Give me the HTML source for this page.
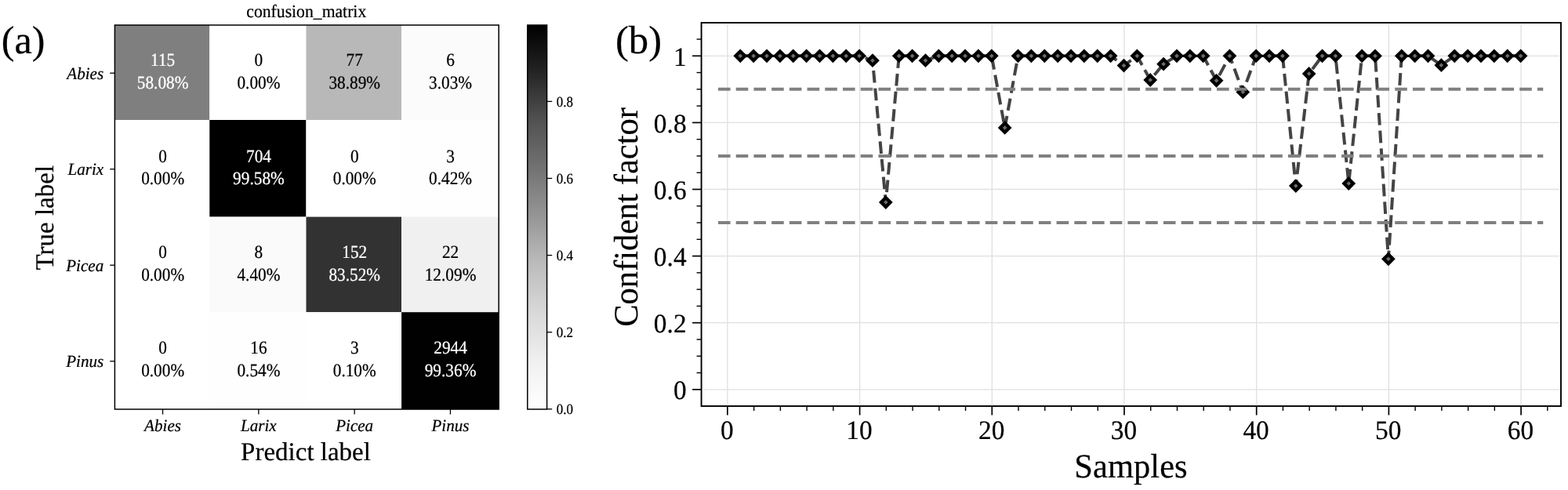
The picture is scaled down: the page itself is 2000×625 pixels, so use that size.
<!DOCTYPE html>
<html lang="en">
<head>
<meta charset="utf-8">
<title>Confusion matrix and confident factor</title>
<style>
html, body { margin: 0; padding: 0; background: #ffffff; }
body { width: 2000px; height: 625px; overflow: hidden; }
svg { display: block; font-family: 'Liberation Serif', 'Times New Roman', serif; text-rendering: geometricPrecision; }
text { fill: #000; stroke: #000; stroke-width: 0.22px; stroke-linejoin: round; }
text.w { fill: #fff; stroke: #fff; }
</style>
</head>
<body>
<svg width="2000" height="625" viewBox="0 0 2000 625">
<defs>
<linearGradient id="cbgrad" x1="0" y1="1" x2="0" y2="0"><stop offset="0.0000" stop-color="#ffffff"/><stop offset="0.0625" stop-color="#f8f8f8"/><stop offset="0.1250" stop-color="#f0f0f0"/><stop offset="0.1875" stop-color="#e4e4e4"/><stop offset="0.2500" stop-color="#d9d9d9"/><stop offset="0.3125" stop-color="#cbcbcb"/><stop offset="0.3750" stop-color="#bdbdbd"/><stop offset="0.4375" stop-color="#aaaaaa"/><stop offset="0.5000" stop-color="#969696"/><stop offset="0.5625" stop-color="#858585"/><stop offset="0.6250" stop-color="#737373"/><stop offset="0.6875" stop-color="#626262"/><stop offset="0.7500" stop-color="#525252"/><stop offset="0.8125" stop-color="#3c3c3c"/><stop offset="0.8750" stop-color="#252525"/><stop offset="0.9375" stop-color="#121212"/><stop offset="1.0000" stop-color="#000000"/></linearGradient>
</defs>
<rect x="0" y="0" width="2000" height="625" fill="#ffffff"/>
<g id="confusion">
<rect x="146.40" y="32.00" width="120.90" height="121.00" fill="#7f7f7f"/>
<rect x="267.30" y="32.00" width="123.20" height="121.00" fill="#ffffff"/>
<rect x="390.50" y="32.00" width="121.60" height="121.00" fill="#b8b8b8"/>
<rect x="512.10" y="32.00" width="124.10" height="121.00" fill="#fbfbfb"/>
<rect x="146.40" y="153.00" width="120.90" height="123.60" fill="#ffffff"/>
<rect x="267.30" y="153.00" width="123.20" height="123.60" fill="#000000"/>
<rect x="390.50" y="153.00" width="121.60" height="123.60" fill="#ffffff"/>
<rect x="512.10" y="153.00" width="124.10" height="123.60" fill="#fefefe"/>
<rect x="146.40" y="276.60" width="120.90" height="121.60" fill="#ffffff"/>
<rect x="267.30" y="276.60" width="123.20" height="121.60" fill="#fafafa"/>
<rect x="390.50" y="276.60" width="121.60" height="121.60" fill="#323232"/>
<rect x="512.10" y="276.60" width="124.10" height="121.60" fill="#f0f0f0"/>
<rect x="146.40" y="398.20" width="120.90" height="123.80" fill="#ffffff"/>
<rect x="267.30" y="398.20" width="123.20" height="123.80" fill="#fefefe"/>
<rect x="390.50" y="398.20" width="121.60" height="123.80" fill="#ffffff"/>
<rect x="512.10" y="398.20" width="124.10" height="123.80" fill="#010101"/>
<text transform="translate(207.65,84.45) scale(1,1.1)" font-size="21.3" text-anchor="middle" class="w" fill="#fff">115</text>
<text transform="translate(207.65,113.15) scale(1,1.1)" font-size="21.3" text-anchor="middle" class="w" fill="#fff">58.08%</text>
<text transform="translate(329.95,84.45) scale(1,1.1)" font-size="21.3" text-anchor="middle">0</text>
<text transform="translate(329.95,113.15) scale(1,1.1)" font-size="21.3" text-anchor="middle">0.00%</text>
<text transform="translate(452.25,84.45) scale(1,1.1)" font-size="21.3" text-anchor="middle">77</text>
<text transform="translate(452.25,113.15) scale(1,1.1)" font-size="21.3" text-anchor="middle">38.89%</text>
<text transform="translate(574.55,84.45) scale(1,1.1)" font-size="21.3" text-anchor="middle">6</text>
<text transform="translate(574.55,113.15) scale(1,1.1)" font-size="21.3" text-anchor="middle">3.03%</text>
<text transform="translate(207.65,206.65) scale(1,1.1)" font-size="21.3" text-anchor="middle">0</text>
<text transform="translate(207.65,235.35) scale(1,1.1)" font-size="21.3" text-anchor="middle">0.00%</text>
<text transform="translate(329.95,206.65) scale(1,1.1)" font-size="21.3" text-anchor="middle" class="w" fill="#fff">704</text>
<text transform="translate(329.95,235.35) scale(1,1.1)" font-size="21.3" text-anchor="middle" class="w" fill="#fff">99.58%</text>
<text transform="translate(452.25,206.65) scale(1,1.1)" font-size="21.3" text-anchor="middle">0</text>
<text transform="translate(452.25,235.35) scale(1,1.1)" font-size="21.3" text-anchor="middle">0.00%</text>
<text transform="translate(574.55,206.65) scale(1,1.1)" font-size="21.3" text-anchor="middle">3</text>
<text transform="translate(574.55,235.35) scale(1,1.1)" font-size="21.3" text-anchor="middle">0.42%</text>
<text transform="translate(207.65,328.85) scale(1,1.1)" font-size="21.3" text-anchor="middle">0</text>
<text transform="translate(207.65,357.55) scale(1,1.1)" font-size="21.3" text-anchor="middle">0.00%</text>
<text transform="translate(329.95,328.85) scale(1,1.1)" font-size="21.3" text-anchor="middle">8</text>
<text transform="translate(329.95,357.55) scale(1,1.1)" font-size="21.3" text-anchor="middle">4.40%</text>
<text transform="translate(452.25,328.85) scale(1,1.1)" font-size="21.3" text-anchor="middle" class="w" fill="#fff">152</text>
<text transform="translate(452.25,357.55) scale(1,1.1)" font-size="21.3" text-anchor="middle" class="w" fill="#fff">83.52%</text>
<text transform="translate(574.55,328.85) scale(1,1.1)" font-size="21.3" text-anchor="middle">22</text>
<text transform="translate(574.55,357.55) scale(1,1.1)" font-size="21.3" text-anchor="middle">12.09%</text>
<text transform="translate(207.65,451.05) scale(1,1.1)" font-size="21.3" text-anchor="middle">0</text>
<text transform="translate(207.65,479.75) scale(1,1.1)" font-size="21.3" text-anchor="middle">0.00%</text>
<text transform="translate(329.95,451.05) scale(1,1.1)" font-size="21.3" text-anchor="middle">16</text>
<text transform="translate(329.95,479.75) scale(1,1.1)" font-size="21.3" text-anchor="middle">0.54%</text>
<text transform="translate(452.25,451.05) scale(1,1.1)" font-size="21.3" text-anchor="middle">3</text>
<text transform="translate(452.25,479.75) scale(1,1.1)" font-size="21.3" text-anchor="middle">0.10%</text>
<text transform="translate(574.55,451.05) scale(1,1.1)" font-size="21.3" text-anchor="middle" class="w" fill="#fff">2944</text>
<text transform="translate(574.55,479.75) scale(1,1.1)" font-size="21.3" text-anchor="middle" class="w" fill="#fff">99.36%</text>
<rect x="146.40" y="32.00" width="489.80" height="490.00" fill="none" stroke="#000" stroke-width="1.5"/>
<line x1="140.20" y1="93.25" x2="146.40" y2="93.25" stroke="#000" stroke-width="1.3"/>
<line x1="207.55" y1="522.00" x2="207.55" y2="528.60" stroke="#000" stroke-width="1.3"/>
<text transform="translate(132.20,100.75) scale(1,1.03)" font-size="21.1" text-anchor="end" font-style="italic">Abies</text>
<text transform="translate(207.55,550.30) scale(1,1.03)" font-size="21.1" text-anchor="middle" font-style="italic">Abies</text>
<line x1="140.20" y1="215.75" x2="146.40" y2="215.75" stroke="#000" stroke-width="1.3"/>
<line x1="329.85" y1="522.00" x2="329.85" y2="528.60" stroke="#000" stroke-width="1.3"/>
<text transform="translate(132.20,223.25) scale(1,1.03)" font-size="21.1" text-anchor="end" font-style="italic">Larix</text>
<text transform="translate(329.85,550.30) scale(1,1.03)" font-size="21.1" text-anchor="middle" font-style="italic">Larix</text>
<line x1="140.20" y1="338.25" x2="146.40" y2="338.25" stroke="#000" stroke-width="1.3"/>
<line x1="452.15" y1="522.00" x2="452.15" y2="528.60" stroke="#000" stroke-width="1.3"/>
<text transform="translate(132.20,345.75) scale(1,1.03)" font-size="21.1" text-anchor="end" font-style="italic">Picea</text>
<text transform="translate(452.15,550.30) scale(1,1.03)" font-size="21.1" text-anchor="middle" font-style="italic">Picea</text>
<line x1="140.20" y1="460.75" x2="146.40" y2="460.75" stroke="#000" stroke-width="1.3"/>
<line x1="574.45" y1="522.00" x2="574.45" y2="528.60" stroke="#000" stroke-width="1.3"/>
<text transform="translate(132.20,468.25) scale(1,1.03)" font-size="21.1" text-anchor="end" font-style="italic">Pinus</text>
<text transform="translate(574.45,550.30) scale(1,1.03)" font-size="21.1" text-anchor="middle" font-style="italic">Pinus</text>
<text transform="translate(390.75,21.90) scale(1,1.06)" font-size="21.7" text-anchor="middle">confusion_matrix</text>
<text transform="translate(390.00,587.20)" font-size="33" text-anchor="middle">Predict label</text>
<text transform="translate(68.20,277.70) rotate(-90)" font-size="33" text-anchor="middle">True label</text>
<text transform="translate(1.80,68.00)" font-size="50.2">(a)</text>
<rect x="672.8" y="32.0" width="24.80" height="490.00" fill="url(#cbgrad)" stroke="#000" stroke-width="1.5"/>
<line x1="697.60" y1="521.80" x2="704.20" y2="521.80" stroke="#000" stroke-width="1.3"/>
<text transform="translate(709.80,528.00) scale(1,1.1)" font-size="17">0.0</text>
<line x1="697.60" y1="423.70" x2="704.20" y2="423.70" stroke="#000" stroke-width="1.3"/>
<text transform="translate(709.80,429.90) scale(1,1.1)" font-size="17">0.2</text>
<line x1="697.60" y1="325.60" x2="704.20" y2="325.60" stroke="#000" stroke-width="1.3"/>
<text transform="translate(709.80,331.80) scale(1,1.1)" font-size="17">0.4</text>
<line x1="697.60" y1="227.50" x2="704.20" y2="227.50" stroke="#000" stroke-width="1.3"/>
<text transform="translate(709.80,233.70) scale(1,1.1)" font-size="17">0.6</text>
<line x1="697.60" y1="129.40" x2="704.20" y2="129.40" stroke="#000" stroke-width="1.3"/>
<text transform="translate(709.80,135.60) scale(1,1.1)" font-size="17">0.8</text>
</g>
<g id="confidence">
<line x1="927.90" y1="29.0" x2="927.90" y2="518.0" stroke="#e0e0e0" stroke-width="1.3"/>
<line x1="1096.60" y1="29.0" x2="1096.60" y2="518.0" stroke="#e0e0e0" stroke-width="1.3"/>
<line x1="1265.30" y1="29.0" x2="1265.30" y2="518.0" stroke="#e0e0e0" stroke-width="1.3"/>
<line x1="1434.00" y1="29.0" x2="1434.00" y2="518.0" stroke="#e0e0e0" stroke-width="1.3"/>
<line x1="1602.70" y1="29.0" x2="1602.70" y2="518.0" stroke="#e0e0e0" stroke-width="1.3"/>
<line x1="1771.40" y1="29.0" x2="1771.40" y2="518.0" stroke="#e0e0e0" stroke-width="1.3"/>
<line x1="1940.10" y1="29.0" x2="1940.10" y2="518.0" stroke="#e0e0e0" stroke-width="1.3"/>
<line x1="894.6" y1="496.80" x2="1991.0" y2="496.80" stroke="#e0e0e0" stroke-width="1.3"/>
<line x1="894.6" y1="411.70" x2="1991.0" y2="411.70" stroke="#e0e0e0" stroke-width="1.3"/>
<line x1="894.6" y1="326.60" x2="1991.0" y2="326.60" stroke="#e0e0e0" stroke-width="1.3"/>
<line x1="894.6" y1="241.50" x2="1991.0" y2="241.50" stroke="#e0e0e0" stroke-width="1.3"/>
<line x1="894.6" y1="156.40" x2="1991.0" y2="156.40" stroke="#e0e0e0" stroke-width="1.3"/>
<line x1="894.6" y1="71.30" x2="1991.0" y2="71.30" stroke="#e0e0e0" stroke-width="1.3"/>
<rect x="896.20" y="30.60" width="1093.20" height="485.80" fill="none" stroke="#fff" stroke-width="1.4"/>
<polyline points="944.27,71.30 961.14,71.30 978.01,71.30 994.88,71.30 1011.75,71.30 1028.62,71.30 1045.49,71.30 1062.36,71.30 1079.23,71.30 1096.10,71.30 1112.97,77.20 1129.84,258.00 1146.71,71.30 1163.58,71.30" fill="none" stroke="#444444" stroke-width="4" stroke-dasharray="15.6 7.1" stroke-dashoffset="21.74" stroke-linejoin="miter"/>
<polyline points="1163.58,71.30 1180.45,77.20 1197.32,71.30 1214.19,71.30 1231.06,71.30 1247.93,71.30 1264.80,71.30 1281.67,162.90 1298.54,71.30" fill="none" stroke="#444444" stroke-width="4" stroke-dasharray="15.6 7.1" stroke-dashoffset="8.27" stroke-linejoin="miter"/>
<polyline points="1298.54,71.30 1315.41,71.30 1332.28,71.30 1349.15,71.30 1366.02,71.30 1382.89,71.30 1399.76,71.30 1416.63,71.30 1433.50,83.55 1450.37,71.30 1467.24,102.00 1484.11,81.65 1500.98,71.30" fill="none" stroke="#444444" stroke-width="4" stroke-dasharray="15.6 7.1" stroke-dashoffset="1.45" stroke-linejoin="miter"/>
<polyline points="1500.98,71.30 1517.85,71.30 1534.72,71.30 1551.59,102.80 1568.46,71.30 1585.33,117.40 1602.20,71.30" fill="none" stroke="#444444" stroke-width="4" stroke-dasharray="15.6 7.1" stroke-dashoffset="13.74" stroke-linejoin="miter"/>
<polyline points="1602.20,71.30 1619.07,71.30 1635.94,71.30 1652.81,237.10 1669.68,94.00 1686.55,71.30 1703.42,71.30" fill="none" stroke="#444444" stroke-width="4" stroke-dasharray="15.6 7.1" stroke-dashoffset="11.54" stroke-linejoin="miter"/>
<polyline points="1703.42,71.30 1720.29,234.00 1737.16,71.30" fill="none" stroke="#444444" stroke-width="4" stroke-dasharray="15.6 7.1" stroke-dashoffset="15.34" stroke-linejoin="miter"/>
<polyline points="1737.16,71.30 1754.03,71.30 1770.90,330.30 1787.77,71.30" fill="none" stroke="#444444" stroke-width="4" stroke-dasharray="15.6 7.1" stroke-dashoffset="0.99" stroke-linejoin="miter"/>
<polyline points="1787.77,71.30 1804.64,71.30 1821.51,71.30 1838.38,83.20 1855.25,71.30 1872.12,71.30 1888.99,71.30 1905.86,71.30 1922.73,71.30 1939.60,71.30" fill="none" stroke="#444444" stroke-width="4" stroke-dasharray="15.6 7.1" stroke-dashoffset="10.10" stroke-linejoin="miter"/>
<line x1="949.27" y1="71.30" x2="956.14" y2="71.30" stroke="#000" stroke-width="3"/>
<line x1="966.14" y1="71.30" x2="973.01" y2="71.30" stroke="#000" stroke-width="3"/>
<line x1="983.01" y1="71.30" x2="989.88" y2="71.30" stroke="#000" stroke-width="3"/>
<line x1="999.88" y1="71.30" x2="1006.75" y2="71.30" stroke="#000" stroke-width="3"/>
<line x1="1016.75" y1="71.30" x2="1023.62" y2="71.30" stroke="#000" stroke-width="3"/>
<line x1="1033.62" y1="71.30" x2="1040.49" y2="71.30" stroke="#000" stroke-width="3"/>
<line x1="1050.49" y1="71.30" x2="1057.36" y2="71.30" stroke="#000" stroke-width="3"/>
<line x1="1067.36" y1="71.30" x2="1074.23" y2="71.30" stroke="#000" stroke-width="3"/>
<line x1="1084.23" y1="71.30" x2="1091.10" y2="71.30" stroke="#000" stroke-width="3"/>
<line x1="1151.71" y1="71.30" x2="1158.58" y2="71.30" stroke="#000" stroke-width="3"/>
<line x1="1202.32" y1="71.30" x2="1209.19" y2="71.30" stroke="#000" stroke-width="3"/>
<line x1="1219.19" y1="71.30" x2="1226.06" y2="71.30" stroke="#000" stroke-width="3"/>
<line x1="1236.06" y1="71.30" x2="1242.93" y2="71.30" stroke="#000" stroke-width="3"/>
<line x1="1252.93" y1="71.30" x2="1259.80" y2="71.30" stroke="#000" stroke-width="3"/>
<line x1="1303.54" y1="71.30" x2="1310.41" y2="71.30" stroke="#000" stroke-width="3"/>
<line x1="1320.41" y1="71.30" x2="1327.28" y2="71.30" stroke="#000" stroke-width="3"/>
<line x1="1337.28" y1="71.30" x2="1344.15" y2="71.30" stroke="#000" stroke-width="3"/>
<line x1="1354.15" y1="71.30" x2="1361.02" y2="71.30" stroke="#000" stroke-width="3"/>
<line x1="1371.02" y1="71.30" x2="1377.89" y2="71.30" stroke="#000" stroke-width="3"/>
<line x1="1387.89" y1="71.30" x2="1394.76" y2="71.30" stroke="#000" stroke-width="3"/>
<line x1="1404.76" y1="71.30" x2="1411.63" y2="71.30" stroke="#000" stroke-width="3"/>
<line x1="1505.98" y1="71.30" x2="1512.85" y2="71.30" stroke="#000" stroke-width="3"/>
<line x1="1522.85" y1="71.30" x2="1529.72" y2="71.30" stroke="#000" stroke-width="3"/>
<line x1="1607.20" y1="71.30" x2="1614.07" y2="71.30" stroke="#000" stroke-width="3"/>
<line x1="1624.07" y1="71.30" x2="1630.94" y2="71.30" stroke="#000" stroke-width="3"/>
<line x1="1691.55" y1="71.30" x2="1698.42" y2="71.30" stroke="#000" stroke-width="3"/>
<line x1="1742.16" y1="71.30" x2="1749.03" y2="71.30" stroke="#000" stroke-width="3"/>
<line x1="1792.77" y1="71.30" x2="1799.64" y2="71.30" stroke="#000" stroke-width="3"/>
<line x1="1809.64" y1="71.30" x2="1816.51" y2="71.30" stroke="#000" stroke-width="3"/>
<line x1="1860.25" y1="71.30" x2="1867.12" y2="71.30" stroke="#000" stroke-width="3"/>
<line x1="1877.12" y1="71.30" x2="1883.99" y2="71.30" stroke="#000" stroke-width="3"/>
<line x1="1893.99" y1="71.30" x2="1900.86" y2="71.30" stroke="#000" stroke-width="3"/>
<line x1="1910.86" y1="71.30" x2="1917.73" y2="71.30" stroke="#000" stroke-width="3"/>
<line x1="1927.73" y1="71.30" x2="1934.60" y2="71.30" stroke="#000" stroke-width="3"/>
<path d="M944.27 65.45L950.12 71.30L944.27 77.15L938.42 71.30Z" fill="#6a6a6a" stroke="#000" stroke-width="4.3" stroke-linejoin="miter"/>
<path d="M961.14 65.45L966.99 71.30L961.14 77.15L955.29 71.30Z" fill="#6a6a6a" stroke="#000" stroke-width="4.3" stroke-linejoin="miter"/>
<path d="M978.01 65.45L983.86 71.30L978.01 77.15L972.16 71.30Z" fill="#6a6a6a" stroke="#000" stroke-width="4.3" stroke-linejoin="miter"/>
<path d="M994.88 65.45L1000.73 71.30L994.88 77.15L989.03 71.30Z" fill="#6a6a6a" stroke="#000" stroke-width="4.3" stroke-linejoin="miter"/>
<path d="M1011.75 65.45L1017.60 71.30L1011.75 77.15L1005.90 71.30Z" fill="#6a6a6a" stroke="#000" stroke-width="4.3" stroke-linejoin="miter"/>
<path d="M1028.62 65.45L1034.47 71.30L1028.62 77.15L1022.77 71.30Z" fill="#6a6a6a" stroke="#000" stroke-width="4.3" stroke-linejoin="miter"/>
<path d="M1045.49 65.45L1051.34 71.30L1045.49 77.15L1039.64 71.30Z" fill="#6a6a6a" stroke="#000" stroke-width="4.3" stroke-linejoin="miter"/>
<path d="M1062.36 65.45L1068.21 71.30L1062.36 77.15L1056.51 71.30Z" fill="#6a6a6a" stroke="#000" stroke-width="4.3" stroke-linejoin="miter"/>
<path d="M1079.23 65.45L1085.08 71.30L1079.23 77.15L1073.38 71.30Z" fill="#6a6a6a" stroke="#000" stroke-width="4.3" stroke-linejoin="miter"/>
<path d="M1096.10 65.45L1101.95 71.30L1096.10 77.15L1090.25 71.30Z" fill="#6a6a6a" stroke="#000" stroke-width="4.3" stroke-linejoin="miter"/>
<path d="M1112.97 71.35L1118.82 77.20L1112.97 83.05L1107.12 77.20Z" fill="#6a6a6a" stroke="#000" stroke-width="4.3" stroke-linejoin="miter"/>
<path d="M1129.84 252.15L1135.69 258.00L1129.84 263.85L1123.99 258.00Z" fill="#6a6a6a" stroke="#000" stroke-width="4.3" stroke-linejoin="miter"/>
<path d="M1146.71 65.45L1152.56 71.30L1146.71 77.15L1140.86 71.30Z" fill="#6a6a6a" stroke="#000" stroke-width="4.3" stroke-linejoin="miter"/>
<path d="M1163.58 65.45L1169.43 71.30L1163.58 77.15L1157.73 71.30Z" fill="#6a6a6a" stroke="#000" stroke-width="4.3" stroke-linejoin="miter"/>
<path d="M1180.45 71.35L1186.30 77.20L1180.45 83.05L1174.60 77.20Z" fill="#6a6a6a" stroke="#000" stroke-width="4.3" stroke-linejoin="miter"/>
<path d="M1197.32 65.45L1203.17 71.30L1197.32 77.15L1191.47 71.30Z" fill="#6a6a6a" stroke="#000" stroke-width="4.3" stroke-linejoin="miter"/>
<path d="M1214.19 65.45L1220.04 71.30L1214.19 77.15L1208.34 71.30Z" fill="#6a6a6a" stroke="#000" stroke-width="4.3" stroke-linejoin="miter"/>
<path d="M1231.06 65.45L1236.91 71.30L1231.06 77.15L1225.21 71.30Z" fill="#6a6a6a" stroke="#000" stroke-width="4.3" stroke-linejoin="miter"/>
<path d="M1247.93 65.45L1253.78 71.30L1247.93 77.15L1242.08 71.30Z" fill="#6a6a6a" stroke="#000" stroke-width="4.3" stroke-linejoin="miter"/>
<path d="M1264.80 65.45L1270.65 71.30L1264.80 77.15L1258.95 71.30Z" fill="#6a6a6a" stroke="#000" stroke-width="4.3" stroke-linejoin="miter"/>
<path d="M1281.67 157.05L1287.52 162.90L1281.67 168.75L1275.82 162.90Z" fill="#6a6a6a" stroke="#000" stroke-width="4.3" stroke-linejoin="miter"/>
<path d="M1298.54 65.45L1304.39 71.30L1298.54 77.15L1292.69 71.30Z" fill="#6a6a6a" stroke="#000" stroke-width="4.3" stroke-linejoin="miter"/>
<path d="M1315.41 65.45L1321.26 71.30L1315.41 77.15L1309.56 71.30Z" fill="#6a6a6a" stroke="#000" stroke-width="4.3" stroke-linejoin="miter"/>
<path d="M1332.28 65.45L1338.13 71.30L1332.28 77.15L1326.43 71.30Z" fill="#6a6a6a" stroke="#000" stroke-width="4.3" stroke-linejoin="miter"/>
<path d="M1349.15 65.45L1355.00 71.30L1349.15 77.15L1343.30 71.30Z" fill="#6a6a6a" stroke="#000" stroke-width="4.3" stroke-linejoin="miter"/>
<path d="M1366.02 65.45L1371.87 71.30L1366.02 77.15L1360.17 71.30Z" fill="#6a6a6a" stroke="#000" stroke-width="4.3" stroke-linejoin="miter"/>
<path d="M1382.89 65.45L1388.74 71.30L1382.89 77.15L1377.04 71.30Z" fill="#6a6a6a" stroke="#000" stroke-width="4.3" stroke-linejoin="miter"/>
<path d="M1399.76 65.45L1405.61 71.30L1399.76 77.15L1393.91 71.30Z" fill="#6a6a6a" stroke="#000" stroke-width="4.3" stroke-linejoin="miter"/>
<path d="M1416.63 65.45L1422.48 71.30L1416.63 77.15L1410.78 71.30Z" fill="#6a6a6a" stroke="#000" stroke-width="4.3" stroke-linejoin="miter"/>
<path d="M1433.50 77.70L1439.35 83.55L1433.50 89.40L1427.65 83.55Z" fill="#6a6a6a" stroke="#000" stroke-width="4.3" stroke-linejoin="miter"/>
<path d="M1450.37 65.45L1456.22 71.30L1450.37 77.15L1444.52 71.30Z" fill="#6a6a6a" stroke="#000" stroke-width="4.3" stroke-linejoin="miter"/>
<path d="M1467.24 96.15L1473.09 102.00L1467.24 107.85L1461.39 102.00Z" fill="#6a6a6a" stroke="#000" stroke-width="4.3" stroke-linejoin="miter"/>
<path d="M1484.11 75.80L1489.96 81.65L1484.11 87.50L1478.26 81.65Z" fill="#6a6a6a" stroke="#000" stroke-width="4.3" stroke-linejoin="miter"/>
<path d="M1500.98 65.45L1506.83 71.30L1500.98 77.15L1495.13 71.30Z" fill="#6a6a6a" stroke="#000" stroke-width="4.3" stroke-linejoin="miter"/>
<path d="M1517.85 65.45L1523.70 71.30L1517.85 77.15L1512.00 71.30Z" fill="#6a6a6a" stroke="#000" stroke-width="4.3" stroke-linejoin="miter"/>
<path d="M1534.72 65.45L1540.57 71.30L1534.72 77.15L1528.87 71.30Z" fill="#6a6a6a" stroke="#000" stroke-width="4.3" stroke-linejoin="miter"/>
<path d="M1551.59 96.95L1557.44 102.80L1551.59 108.65L1545.74 102.80Z" fill="#6a6a6a" stroke="#000" stroke-width="4.3" stroke-linejoin="miter"/>
<path d="M1568.46 65.45L1574.31 71.30L1568.46 77.15L1562.61 71.30Z" fill="#6a6a6a" stroke="#000" stroke-width="4.3" stroke-linejoin="miter"/>
<path d="M1585.33 111.55L1591.18 117.40L1585.33 123.25L1579.48 117.40Z" fill="#6a6a6a" stroke="#000" stroke-width="4.3" stroke-linejoin="miter"/>
<path d="M1602.20 65.45L1608.05 71.30L1602.20 77.15L1596.35 71.30Z" fill="#6a6a6a" stroke="#000" stroke-width="4.3" stroke-linejoin="miter"/>
<path d="M1619.07 65.45L1624.92 71.30L1619.07 77.15L1613.22 71.30Z" fill="#6a6a6a" stroke="#000" stroke-width="4.3" stroke-linejoin="miter"/>
<path d="M1635.94 65.45L1641.79 71.30L1635.94 77.15L1630.09 71.30Z" fill="#6a6a6a" stroke="#000" stroke-width="4.3" stroke-linejoin="miter"/>
<path d="M1652.81 231.25L1658.66 237.10L1652.81 242.95L1646.96 237.10Z" fill="#6a6a6a" stroke="#000" stroke-width="4.3" stroke-linejoin="miter"/>
<path d="M1669.68 88.15L1675.53 94.00L1669.68 99.85L1663.83 94.00Z" fill="#6a6a6a" stroke="#000" stroke-width="4.3" stroke-linejoin="miter"/>
<path d="M1686.55 65.45L1692.40 71.30L1686.55 77.15L1680.70 71.30Z" fill="#6a6a6a" stroke="#000" stroke-width="4.3" stroke-linejoin="miter"/>
<path d="M1703.42 65.45L1709.27 71.30L1703.42 77.15L1697.57 71.30Z" fill="#6a6a6a" stroke="#000" stroke-width="4.3" stroke-linejoin="miter"/>
<path d="M1720.29 228.15L1726.14 234.00L1720.29 239.85L1714.44 234.00Z" fill="#6a6a6a" stroke="#000" stroke-width="4.3" stroke-linejoin="miter"/>
<path d="M1737.16 65.45L1743.01 71.30L1737.16 77.15L1731.31 71.30Z" fill="#6a6a6a" stroke="#000" stroke-width="4.3" stroke-linejoin="miter"/>
<path d="M1754.03 65.45L1759.88 71.30L1754.03 77.15L1748.18 71.30Z" fill="#6a6a6a" stroke="#000" stroke-width="4.3" stroke-linejoin="miter"/>
<path d="M1770.90 324.45L1776.75 330.30L1770.90 336.15L1765.05 330.30Z" fill="#6a6a6a" stroke="#000" stroke-width="4.3" stroke-linejoin="miter"/>
<path d="M1787.77 65.45L1793.62 71.30L1787.77 77.15L1781.92 71.30Z" fill="#6a6a6a" stroke="#000" stroke-width="4.3" stroke-linejoin="miter"/>
<path d="M1804.64 65.45L1810.49 71.30L1804.64 77.15L1798.79 71.30Z" fill="#6a6a6a" stroke="#000" stroke-width="4.3" stroke-linejoin="miter"/>
<path d="M1821.51 65.45L1827.36 71.30L1821.51 77.15L1815.66 71.30Z" fill="#6a6a6a" stroke="#000" stroke-width="4.3" stroke-linejoin="miter"/>
<path d="M1838.38 77.35L1844.23 83.20L1838.38 89.05L1832.53 83.20Z" fill="#6a6a6a" stroke="#000" stroke-width="4.3" stroke-linejoin="miter"/>
<path d="M1855.25 65.45L1861.10 71.30L1855.25 77.15L1849.40 71.30Z" fill="#6a6a6a" stroke="#000" stroke-width="4.3" stroke-linejoin="miter"/>
<path d="M1872.12 65.45L1877.97 71.30L1872.12 77.15L1866.27 71.30Z" fill="#6a6a6a" stroke="#000" stroke-width="4.3" stroke-linejoin="miter"/>
<path d="M1888.99 65.45L1894.84 71.30L1888.99 77.15L1883.14 71.30Z" fill="#6a6a6a" stroke="#000" stroke-width="4.3" stroke-linejoin="miter"/>
<path d="M1905.86 65.45L1911.71 71.30L1905.86 77.15L1900.01 71.30Z" fill="#6a6a6a" stroke="#000" stroke-width="4.3" stroke-linejoin="miter"/>
<path d="M1922.73 65.45L1928.58 71.30L1922.73 77.15L1916.88 71.30Z" fill="#6a6a6a" stroke="#000" stroke-width="4.3" stroke-linejoin="miter"/>
<path d="M1939.60 65.45L1945.45 71.30L1939.60 77.15L1933.75 71.30Z" fill="#6a6a6a" stroke="#000" stroke-width="4.3" stroke-linejoin="miter"/>
<line x1="916.00" y1="113.85" x2="1968.30" y2="113.85" stroke="#808080" stroke-width="4" stroke-dasharray="15.6 7.116"/>
<line x1="916.00" y1="198.95" x2="1968.30" y2="198.95" stroke="#808080" stroke-width="4" stroke-dasharray="15.6 7.116"/>
<line x1="916.00" y1="284.05" x2="1968.30" y2="284.05" stroke="#808080" stroke-width="4" stroke-dasharray="15.6 7.116"/>
<rect x="894.6" y="29.0" width="1096.40" height="489.00" fill="none" stroke="#000" stroke-width="1.9"/>
<line x1="927.90" y1="518.0" x2="927.90" y2="529.5" stroke="#000" stroke-width="1.7"/>
<text transform="translate(927.30,559.80) scale(1,1.02)" font-size="33.4" text-anchor="middle">0</text>
<line x1="961.64" y1="518.0" x2="961.64" y2="524.0" stroke="#000" stroke-width="1.4"/>
<line x1="995.38" y1="518.0" x2="995.38" y2="524.0" stroke="#000" stroke-width="1.4"/>
<line x1="1029.12" y1="518.0" x2="1029.12" y2="524.0" stroke="#000" stroke-width="1.4"/>
<line x1="1062.86" y1="518.0" x2="1062.86" y2="524.0" stroke="#000" stroke-width="1.4"/>
<line x1="1096.60" y1="518.0" x2="1096.60" y2="529.5" stroke="#000" stroke-width="1.7"/>
<text transform="translate(1096.00,559.80) scale(1,1.02)" font-size="33.4" text-anchor="middle">10</text>
<line x1="1130.34" y1="518.0" x2="1130.34" y2="524.0" stroke="#000" stroke-width="1.4"/>
<line x1="1164.08" y1="518.0" x2="1164.08" y2="524.0" stroke="#000" stroke-width="1.4"/>
<line x1="1197.82" y1="518.0" x2="1197.82" y2="524.0" stroke="#000" stroke-width="1.4"/>
<line x1="1231.56" y1="518.0" x2="1231.56" y2="524.0" stroke="#000" stroke-width="1.4"/>
<line x1="1265.30" y1="518.0" x2="1265.30" y2="529.5" stroke="#000" stroke-width="1.7"/>
<text transform="translate(1264.70,559.80) scale(1,1.02)" font-size="33.4" text-anchor="middle">20</text>
<line x1="1299.04" y1="518.0" x2="1299.04" y2="524.0" stroke="#000" stroke-width="1.4"/>
<line x1="1332.78" y1="518.0" x2="1332.78" y2="524.0" stroke="#000" stroke-width="1.4"/>
<line x1="1366.52" y1="518.0" x2="1366.52" y2="524.0" stroke="#000" stroke-width="1.4"/>
<line x1="1400.26" y1="518.0" x2="1400.26" y2="524.0" stroke="#000" stroke-width="1.4"/>
<line x1="1434.00" y1="518.0" x2="1434.00" y2="529.5" stroke="#000" stroke-width="1.7"/>
<text transform="translate(1433.40,559.80) scale(1,1.02)" font-size="33.4" text-anchor="middle">30</text>
<line x1="1467.74" y1="518.0" x2="1467.74" y2="524.0" stroke="#000" stroke-width="1.4"/>
<line x1="1501.48" y1="518.0" x2="1501.48" y2="524.0" stroke="#000" stroke-width="1.4"/>
<line x1="1535.22" y1="518.0" x2="1535.22" y2="524.0" stroke="#000" stroke-width="1.4"/>
<line x1="1568.96" y1="518.0" x2="1568.96" y2="524.0" stroke="#000" stroke-width="1.4"/>
<line x1="1602.70" y1="518.0" x2="1602.70" y2="529.5" stroke="#000" stroke-width="1.7"/>
<text transform="translate(1602.10,559.80) scale(1,1.02)" font-size="33.4" text-anchor="middle">40</text>
<line x1="1636.44" y1="518.0" x2="1636.44" y2="524.0" stroke="#000" stroke-width="1.4"/>
<line x1="1670.18" y1="518.0" x2="1670.18" y2="524.0" stroke="#000" stroke-width="1.4"/>
<line x1="1703.92" y1="518.0" x2="1703.92" y2="524.0" stroke="#000" stroke-width="1.4"/>
<line x1="1737.66" y1="518.0" x2="1737.66" y2="524.0" stroke="#000" stroke-width="1.4"/>
<line x1="1771.40" y1="518.0" x2="1771.40" y2="529.5" stroke="#000" stroke-width="1.7"/>
<text transform="translate(1770.80,559.80) scale(1,1.02)" font-size="33.4" text-anchor="middle">50</text>
<line x1="1805.14" y1="518.0" x2="1805.14" y2="524.0" stroke="#000" stroke-width="1.4"/>
<line x1="1838.88" y1="518.0" x2="1838.88" y2="524.0" stroke="#000" stroke-width="1.4"/>
<line x1="1872.62" y1="518.0" x2="1872.62" y2="524.0" stroke="#000" stroke-width="1.4"/>
<line x1="1906.36" y1="518.0" x2="1906.36" y2="524.0" stroke="#000" stroke-width="1.4"/>
<line x1="1940.10" y1="518.0" x2="1940.10" y2="529.5" stroke="#000" stroke-width="1.7"/>
<text transform="translate(1939.50,559.80) scale(1,1.02)" font-size="33.4" text-anchor="middle">60</text>
<line x1="1973.84" y1="518.0" x2="1973.84" y2="524.0" stroke="#000" stroke-width="1.4"/>
<line x1="883.1" y1="496.80" x2="894.6" y2="496.80" stroke="#000" stroke-width="1.7"/>
<text transform="translate(875.60,509.30) scale(1,1.02)" font-size="33.4" text-anchor="end">0</text>
<line x1="888.6" y1="475.53" x2="894.6" y2="475.53" stroke="#000" stroke-width="1.4"/>
<line x1="888.6" y1="454.25" x2="894.6" y2="454.25" stroke="#000" stroke-width="1.4"/>
<line x1="888.6" y1="432.98" x2="894.6" y2="432.98" stroke="#000" stroke-width="1.4"/>
<line x1="883.1" y1="411.70" x2="894.6" y2="411.70" stroke="#000" stroke-width="1.7"/>
<text transform="translate(875.60,424.20) scale(1,1.02)" font-size="33.4" text-anchor="end">0.2</text>
<line x1="888.6" y1="390.43" x2="894.6" y2="390.43" stroke="#000" stroke-width="1.4"/>
<line x1="888.6" y1="369.15" x2="894.6" y2="369.15" stroke="#000" stroke-width="1.4"/>
<line x1="888.6" y1="347.88" x2="894.6" y2="347.88" stroke="#000" stroke-width="1.4"/>
<line x1="883.1" y1="326.60" x2="894.6" y2="326.60" stroke="#000" stroke-width="1.7"/>
<text transform="translate(875.60,339.10) scale(1,1.02)" font-size="33.4" text-anchor="end">0.4</text>
<line x1="888.6" y1="305.33" x2="894.6" y2="305.33" stroke="#000" stroke-width="1.4"/>
<line x1="888.6" y1="284.05" x2="894.6" y2="284.05" stroke="#000" stroke-width="1.4"/>
<line x1="888.6" y1="262.77" x2="894.6" y2="262.77" stroke="#000" stroke-width="1.4"/>
<line x1="883.1" y1="241.50" x2="894.6" y2="241.50" stroke="#000" stroke-width="1.7"/>
<text transform="translate(875.60,254.00) scale(1,1.02)" font-size="33.4" text-anchor="end">0.6</text>
<line x1="888.6" y1="220.23" x2="894.6" y2="220.23" stroke="#000" stroke-width="1.4"/>
<line x1="888.6" y1="198.95" x2="894.6" y2="198.95" stroke="#000" stroke-width="1.4"/>
<line x1="888.6" y1="177.68" x2="894.6" y2="177.68" stroke="#000" stroke-width="1.4"/>
<line x1="883.1" y1="156.40" x2="894.6" y2="156.40" stroke="#000" stroke-width="1.7"/>
<text transform="translate(875.60,168.90) scale(1,1.02)" font-size="33.4" text-anchor="end">0.8</text>
<line x1="888.6" y1="135.12" x2="894.6" y2="135.12" stroke="#000" stroke-width="1.4"/>
<line x1="888.6" y1="113.85" x2="894.6" y2="113.85" stroke="#000" stroke-width="1.4"/>
<line x1="888.6" y1="92.57" x2="894.6" y2="92.57" stroke="#000" stroke-width="1.4"/>
<line x1="883.1" y1="71.30" x2="894.6" y2="71.30" stroke="#000" stroke-width="1.7"/>
<text transform="translate(875.60,83.80) scale(1,1.02)" font-size="33.4" text-anchor="end">1</text>
<line x1="888.6" y1="50.02" x2="894.6" y2="50.02" stroke="#000" stroke-width="1.4"/>
<text transform="translate(1442.50,609.20) scale(1,1.02)" font-size="42.6" text-anchor="middle">Samples</text>
<text transform="translate(813.30,277.00) rotate(-90) scale(1,1.02)" font-size="42.5" text-anchor="middle">Confident factor</text>
<text transform="translate(785.00,68.00)" font-size="50.6">(b)</text>
</g>
</svg>
</body>
</html>
